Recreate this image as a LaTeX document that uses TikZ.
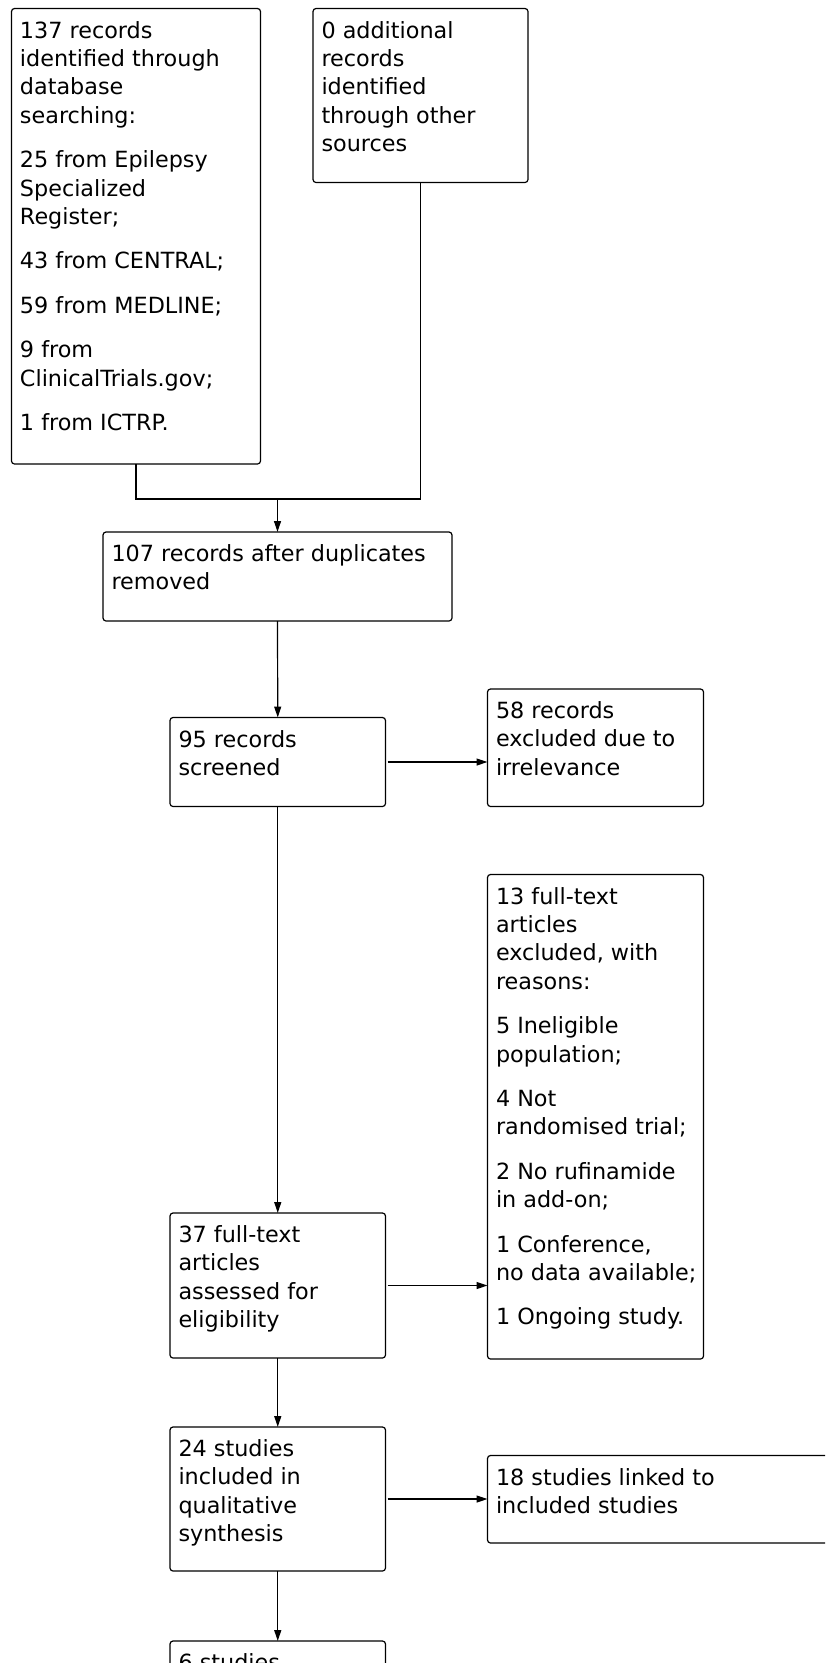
\documentclass[tikz,border=0pt]{standalone}
\usepackage{fontspec}
\setmainfont{DejaVu Sans}
\usetikzlibrary{arrows.meta,positioning}

% text of a box: width, height, lines (top aligned)
\newcommand{\boxtext}[3]{\parbox[c][#2][t]{#1}{\raggedright\leftskip=8.5pt\parskip=16pt\rule{0pt}{29.5pt}#3}}

\tikzset{
  flowbox/.style={draw, line width=1.2pt, rounded corners=3pt, inner sep=0pt, outer sep=0pt, anchor=north west},
  flowline/.style={line width=1.2pt},
  flowarrow/.style={flowline, -{Triangle[length=11pt,width=7pt]}},
}

\begin{document}
\begin{tikzpicture}[x=1pt, y=-1pt, font=\fontsize{22.3}{28.4}\selectfont]
    \path[use as bounding box, clip] (0,0) rectangle (825,1663);
    % identification
    \node[flowbox] (records) at (11.5,8.5) {\boxtext{249pt}{455.5pt}{137 records\\identified through\\database\\searching:\par 25 from Epilepsy\\Specialized\\Register;\par 43 from CENTRAL;\par 59 from MEDLINE;\par 9 from\\ClinicalTrials.gov;\par 1 from ICTRP.}};
    \node[flowbox] (other) at (313,8.5) {\boxtext{215pt}{174pt}{0 additional\\records\\identified\\through other\\sources}};
    \node[flowbox] (dupes) at (103,532) {\boxtext{349pt}{89pt}{107 records after duplicates\\removed}};
    % screening
    \node[flowbox] (screened) at (170,717.5) {\boxtext{215.5pt}{89pt}{95 records\\screened}};
    \node[flowbox] (irrelevant) at (487.5,689) {\boxtext{216pt}{117.5pt}{58 records\\excluded due to\\irrelevance}};
    % eligibility
    \node[flowbox] (fulltext) at (170,1213) {\boxtext{215.5pt}{145pt}{37 full-text\\articles\\assessed for\\eligibility}};
    \node[flowbox] (excluded) at (487.5,874.5) {\boxtext{216pt}{484.5pt}{13 full-text\\articles\\excluded, with\\reasons:\par 5 Ineligible\\population;\par 4 Not\\randomised trial;\par 2 No rufinamide\\in add-on;\par 1 Conference,\\no data available;\par 1 Ongoing study.}};
    % included
    \node[flowbox] (qualitative) at (170,1427) {\boxtext{215.5pt}{144pt}{24 studies\\included in\\qualitative\\synthesis}};
    \node[flowbox] (linked) at (487.5,1455.5) {\boxtext{400pt}{87.5pt}{18 studies linked to\\included studies}};
    \node[flowbox] (quantitative) at (170,1641) {\boxtext{215.5pt}{145pt}{6 studies}};
    % connectors
    \coordinate (merge) at (dupes.north |- 0,499);
    \draw[flowline] (records.south) |- (merge) -| (other.south);
    \draw[flowarrow] (merge) -- (dupes.north);
    \draw[flowarrow] (dupes.south) -- (screened.north);
    \draw[flowarrow, shorten <=2pt] (screened.east) -- (screened.east -| irrelevant.west);
    \draw[flowarrow] (screened.south) -- (fulltext.north);
    \draw[flowarrow, shorten <=2pt] (fulltext.east) -- (fulltext.east -| excluded.west);
    \draw[flowarrow] (fulltext.south) -- (qualitative.north);
    \draw[flowarrow, shorten <=2pt] (qualitative.east) -- (qualitative.east -| linked.west);
    \draw[flowarrow] (qualitative.south) -- (quantitative.north);
\end{tikzpicture}
\end{document}
